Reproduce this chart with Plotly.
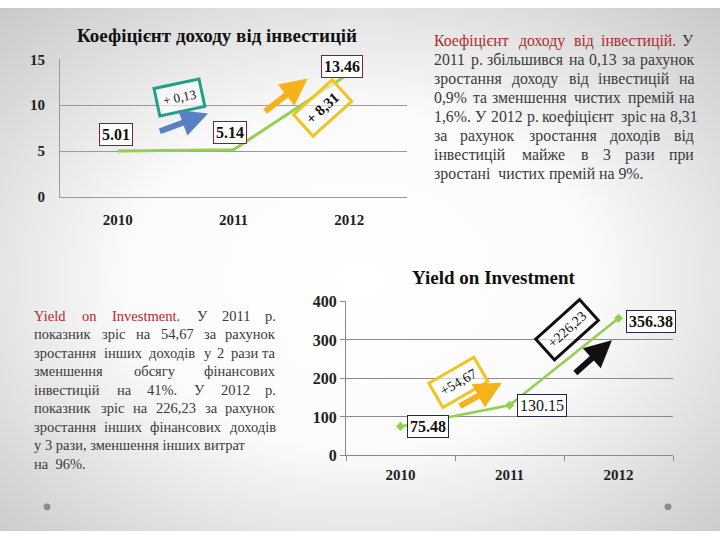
import base64
import plotly.graph_objects as go

# ---------------- data ----------------
years = ["2010", "2011", "2012"]
coef_values = [5.01, 5.14, 13.46]
yield_values = [75.48, 130.15, 356.38]
coef_ticks = [0, 5, 10, 15]
yield_ticks = [0, 100, 200, 300, 400]
coef_title = "Коефіцієнт доходу від інвестицій"
yield_title = "Yield on Investment"
coef_delta_texts = ["+ 0,13", "+ 8,31"]
yield_delta_texts = ["+54,67", "+226,23"]

top_lines = [
    "Коефіцієнт доходу від інвестицій. У",
    "2011 р. збільшився на 0,13 за рахунок",
    "зростання доходу від інвестицій на",
    "0,9% та зменшення чистих премій на",
    "1,6%. У 2012 р. коефіцієнт зріс на 8,31",
    "за рахунок зростання доходів від",
    "інвестицій майже в 3 рази при",
    "зростані  чистих премій на 9%.",
]
top_red_words = 4
bottom_lines = [
    "Yield on Investment. У 2011 р.",
    "показник зріс на 54,67 за рахунок",
    "зростання інших доходів у 2 рази та",
    "зменшення обсягу фінансових",
    "інвестицій на 41%. У 2012 р.",
    "показник зріс на 226,23 за рахунок",
    "зростання інших фінансових доходів",
    "у 3 рази, зменшення інших витрат",
    "на  96%.",
]
bottom_red_words = 3

# ---------------- styling helpers ----------------
W, H = 720, 540
SERIF = "Liberation Serif, Times New Roman, serif"
GREEN = "#92D050"
TEXT = "#3a3a3a"
RED = "#b3282d"

CW = {' ': 250, '.': 250, ',': 250, '%': 833, '+': 564, 'Y': 722, 'I': 333,
      'У': 722, 'К': 722,
      'а': 444, 'б': 509, 'в': 472, 'г': 410, 'д': 509, 'е': 444, 'є': 444,
      'ж': 691, 'з': 395, 'и': 535, 'і': 278, 'ї': 278, 'й': 535, 'к': 486,
      'л': 499, 'м': 633, 'н': 535, 'о': 500, 'п': 535, 'р': 500, 'с': 444,
      'т': 437, 'у': 500, 'ф': 648, 'х': 500, 'ц': 535, 'ч': 503, 'ш': 770,
      'щ': 770, 'ь': 456, 'ю': 747, 'я': 463,
      'a': 444, 'd': 500, 'e': 444, 'i': 278, 'l': 278, 'm': 778, 'n': 500,
      'o': 500, 's': 389, 't': 278, 'v': 500}


def text_w(s, size):
    return sum(CW.get(c, 500) for c in s) * size / 1000.0 * 1.03


def px(x):
    return x / W


def py(y):
    return 1 - y / H


annotations = []


def add_text(text, x, y, anchor, size, color):
    annotations.append(dict(text=text, x=px(x), y=py(y), xref="paper", yref="paper",
                            xanchor=anchor, yanchor="middle", showarrow=False, borderpad=0,
                            font=dict(family=SERIF, size=size, color=color)))


def paragraph(lines, red_count, left, right, y0, dy, size, n_justified):
    word_index = 0
    for i, line in enumerate(lines):
        y = y0 + i * dy
        words = line.split()
        colors = []
        for w in words:
            colors.append(RED if word_index < red_count else TEXT)
            word_index += 1
        if i < n_justified and len(words) > 1:
            widths = [text_w(w, size) for w in words]
            gap = (right - left - sum(widths)) / (len(words) - 1)
            snap_right = gap >= 3.5
            gap = max(gap, 3.5)
            x = left
            for k, (w, c) in enumerate(zip(words, colors)):
                if k == len(words) - 1 and snap_right:
                    add_text(w, right, y, "right", size, c)
                else:
                    add_text(w, x, y, "left", size, c)
                x += widths[k] + gap
        else:
            add_text(line.replace("  ", "&nbsp; "), left, y, "left", size, TEXT)


paragraph(top_lines, top_red_words, 433, 695, 34, 19.6, 15.8, 7)
paragraph(bottom_lines, bottom_red_words, 33, 277, 318, 19.1, 14.5, 7)

# ---------------- figure ----------------
fig = go.Figure()
fig.add_trace(go.Scatter(x=years, y=coef_values, mode="lines", line=dict(color=GREEN, width=3),
                         xaxis="x", yaxis="y", showlegend=False, hoverinfo="skip"))
fig.add_trace(go.Scatter(x=years, y=yield_values, mode="lines+markers",
                         line=dict(color=GREEN, width=2.5),
                         marker=dict(symbol="diamond", size=7, color=GREEN),
                         xaxis="x2", yaxis="y2", showlegend=False, hoverinfo="skip"))

# value labels
top_shifts = [(-2, 16), (-4, 17), (-7, 7)]
for i, (yr, v) in enumerate(zip(years, coef_values)):
    annotations.append(dict(text=f"{v:.2f}", x=i, y=v, xref="x", yref="y", showarrow=False,
                            xanchor="center", yanchor="middle",
                            xshift=top_shifts[i][0], yshift=top_shifts[i][1],
                            bgcolor="white", bordercolor="#7f1f3f", borderwidth=1, borderpad=2,
                            font=dict(family=SERIF, size=16, color="#111", weight="bold")))
bottom_shifts = [(6, 0), (7, 0), (7, -3)]
for i, (yr, v) in enumerate(zip(years, yield_values)):
    annotations.append(dict(text=f"{v:.2f}", x=i, y=v, xref="x2", yref="y2", showarrow=False,
                            xanchor="left", yanchor="middle",
                            xshift=bottom_shifts[i][0], yshift=bottom_shifts[i][1],
                            bgcolor="white", bordercolor="#1f2a44", borderwidth=1, borderpad=2,
                            font=dict(family=SERIF, size=16, color="#111",
                                      weight="normal" if i == 1 else "bold")))

# delta boxes
def delta_box(text, x, y, xr, yr, angle, color, size, weight):
    annotations.append(dict(text=text, x=x, y=y, xref=xr, yref=yr, showarrow=False,
                            xanchor="center", yanchor="middle",
                            textangle=angle, bordercolor=color, borderwidth=3, borderpad=5,
                            bgcolor="rgba(255,255,255,0.6)",
                            font=dict(family=SERIF, size=size, color="#111", weight=weight)))

delta_box(coef_delta_texts[0], 0.53, 10.8, "x", "y", -12, "#1fa088", 13, "normal")
delta_box(coef_delta_texts[1], 1.77, 9.7, "x", "y", -42, "#f2c31c", 15, "bold")
delta_box(yield_delta_texts[0], 0.53, 189, "x2", "y2", -30, "#f2c31c", 14, "normal")
delta_box(yield_delta_texts[1], 1.53, 327, "x2", "y2", -42, "#111111", 14, "normal")

# arrows
def arrow(x0, y0, x1, y1, xr, yr, color):
    annotations.append(dict(text="", x=x1, y=y1, ax=x0, ay=y0, xref=xr, yref=yr, axref=xr, ayref=yr,
                            showarrow=True, arrowhead=2, arrowsize=0.9, arrowwidth=6,
                            arrowcolor=color, standoff=0))

arrow(0.35, 7.1, 0.78, 9.1, "x", "y", "#5b7fc4")
arrow(1.26, 9.2, 1.64, 12.9, "x", "y", "#f5b21a")
arrow(0.53, 126, 0.93, 189, "x2", "y2", "#f5b21a")
arrow(1.59, 211, 1.94, 299, "x2", "y2", "#111111")

# titles
for t, x, y in ((coef_title, 217, 28), (yield_title, 494, 278)):
    annotations.append(dict(text=t, x=px(x), y=py(y), xref="paper", yref="paper", showarrow=False,
                            xanchor="center", yanchor="middle",
                            font=dict(family=SERIF, size=19, color="#111", weight="bold")))

# background
svg = ('<svg xmlns="http://www.w3.org/2000/svg" width="720" height="540">'
       '<defs><radialGradient id="g" cx="50%" cy="52%" r="72%">'
       '<stop offset="0" stop-color="#ffffff"/><stop offset="0.45" stop-color="#fbfbfb"/>'
       '<stop offset="1" stop-color="#c9c9c9"/></radialGradient></defs>'
       '<rect width="720" height="540" fill="url(#g)"/></svg>')
bg = "data:image/svg+xml;base64," + base64.b64encode(svg.encode()).decode()

shapes = []
for cx in (47, 668):
    shapes.append(dict(type="circle", xref="paper", yref="paper",
                       x0=px(cx - 3.5), x1=px(cx + 3.5), y0=py(515 + 3.5), y1=py(515 - 3.5),
                       fillcolor="#8c8c8c", line=dict(width=0), layer="above"))

tickfont = dict(family=SERIF, size=15, color="#222", weight="bold")
fig.update_layout(
    width=W, height=H, autosize=False,
    margin=dict(l=0, r=0, t=0, b=0),
    paper_bgcolor="white", plot_bgcolor="rgba(0,0,0,0)",
    images=[dict(source=bg, xref="paper", yref="paper", x=0, y=1, sizex=1, sizey=1,
                 sizing="stretch", layer="below", xanchor="left", yanchor="top")],
    xaxis=dict(domain=[px(60), px(407)], anchor="y", type="category", range=[-0.5, 2.5],
               showgrid=False, showline=True, linecolor="#9a9a9a", linewidth=1,
               ticks="outside", ticklen=9, tickcolor="rgba(0,0,0,0)", tickfont=tickfont, fixedrange=True),
    yaxis=dict(domain=[py(195), py(53)], anchor="x", range=[0, 15], tickvals=coef_ticks,
               showgrid=True, gridcolor="#9a9a9a", gridwidth=1, zeroline=False,
               showline=True, linecolor="#9a9a9a", linewidth=1,
               ticks="outside", ticklen=11, tickcolor="rgba(0,0,0,0)", tickfont=tickfont, fixedrange=True),
    xaxis2=dict(domain=[px(346), px(673)], anchor="y2", type="category", range=[-0.5, 2.5],
                showgrid=False, showline=True, linecolor="#8a8a8a", linewidth=1,
                ticks="outside", tickson="boundaries", ticklen=5, tickcolor="#8a8a8a",
                ticklabelstandoff=6, tickfont=tickfont, fixedrange=True),
    yaxis2=dict(domain=[py(462), py(303)], anchor="x2", range=[0, 400], tickvals=yield_ticks,
                showgrid=True, gridcolor="#8a8a8a", gridwidth=1, zeroline=False,
                showline=True, linecolor="#8a8a8a", linewidth=1,
                ticks="outside", ticklen=5, tickcolor="#8a8a8a",
                tickfont=dict(family=SERIF, size=16, color="#222", weight="bold"), fixedrange=True),
    annotations=annotations,
    shapes=shapes,
)

fig.write_html(
    "out.html",
    config={"responsive": False, "displayModeBar": False},
    post_script=(
        "document.body.style.margin='0';document.body.style.padding='0';"
        "document.body.style.overflow='hidden';document.documentElement.style.overflow='hidden';"
        "var g=document.getElementById('{plot_id}');"
        "g.style.position='fixed';g.style.left='0px';g.style.top='0px';"
    ),
)
